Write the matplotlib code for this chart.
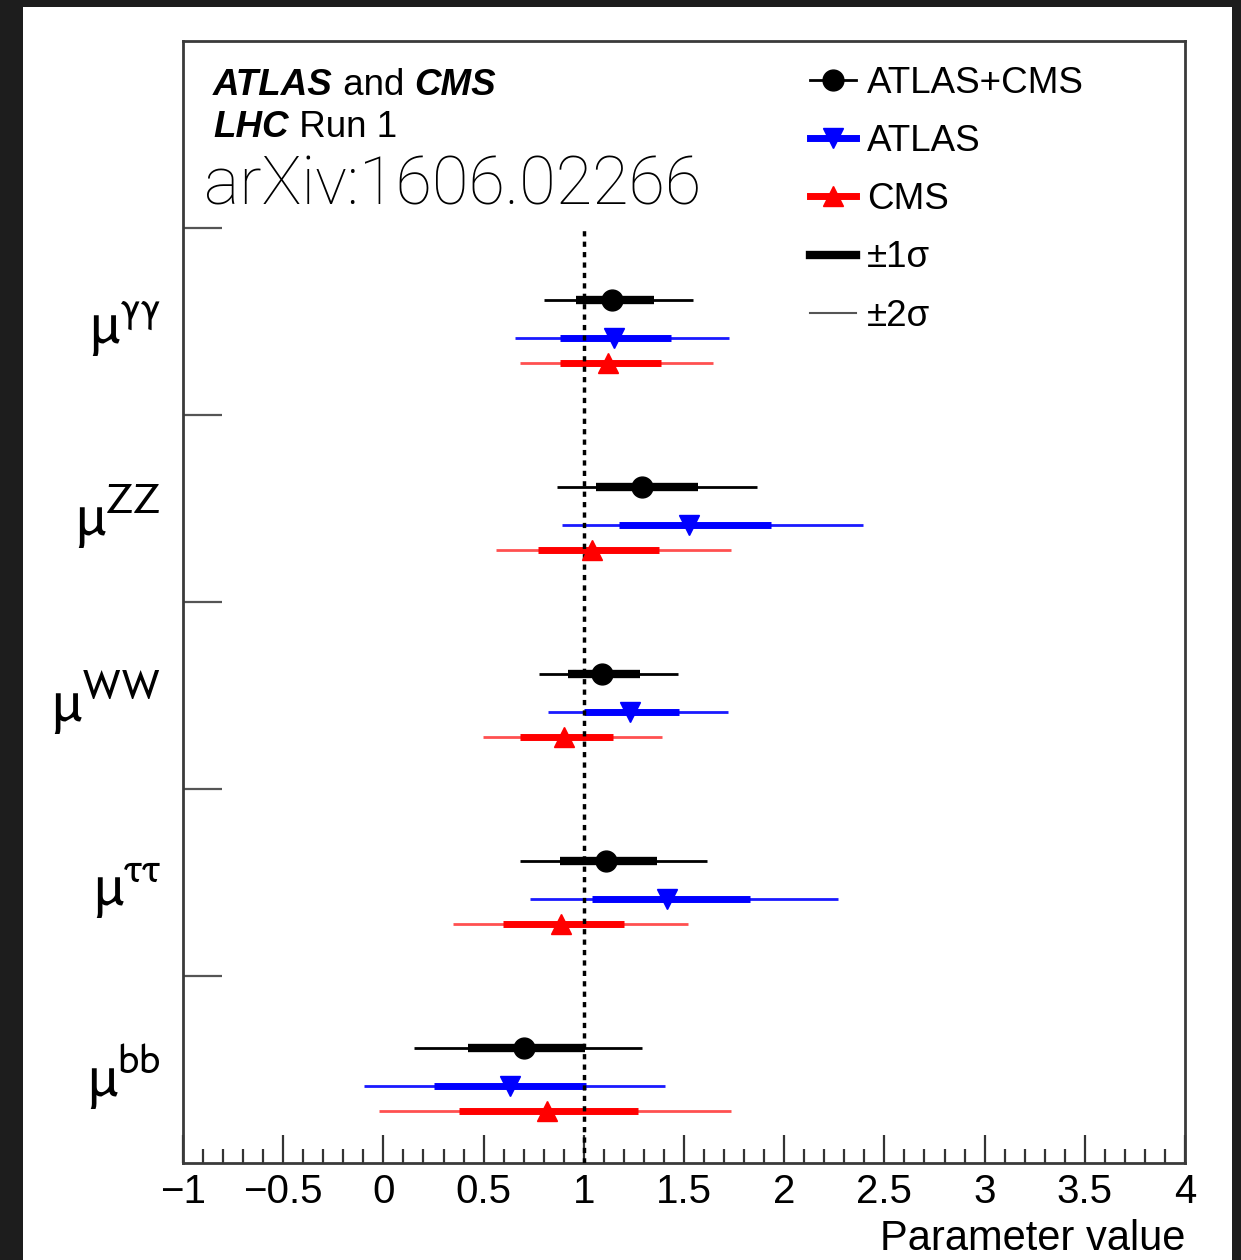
import numpy as np
import matplotlib
matplotlib.use('Agg')
from matplotlib import pyplot as plt
from matplotlib.lines import Line2D
from matplotlib.patches import Rectangle

plt.rcParams['font.family'] = ['Liberation Sans', 'DejaVu Sans']
plt.rcParams['mathtext.fontset'] = 'stixsans'

# channels, top to bottom
channels = [r'$\mathrm{\mu}^{\mathrm{\gamma\gamma}}$', r'$\mathrm{\mu}^{\mathrm{ZZ}}$',
            r'$\mathrm{\mu}^{\mathrm{WW}}$', r'$\mathrm{\mu}^{\mathrm{\tau\tau}}$',
            r'$\mathrm{\mu}^{\mathrm{bb}}$']

# ATLAS+CMS
comb = [1.14, 1.29, 1.09, 1.11, 0.70]
comb_1lo = [0.96, 1.06, 0.92, 0.88, 0.42]
comb_1hi = [1.35, 1.57, 1.28, 1.365, 1.005]
comb_2lo = [0.80, 0.865, 0.775, 0.68, 0.155]
comb_2hi = [1.545, 1.865, 1.47, 1.615, 1.29]

# ATLAS
atlas = [1.15, 1.525, 1.23, 1.415, 0.63]
atlas_1lo = [0.88, 1.175, 1.00, 1.04, 0.25]
atlas_1hi = [1.435, 1.935, 1.475, 1.83, 1.01]
atlas_2lo = [0.655, 0.89, 0.82, 0.73, -0.095]
atlas_2hi = [1.725, 2.395, 1.72, 2.27, 1.405]

# CMS
cms = [1.12, 1.04, 0.90, 0.885, 0.815]
cms_1lo = [0.88, 0.77, 0.68, 0.595, 0.375]
cms_1hi = [1.385, 1.375, 1.145, 1.20, 1.27]
cms_2lo = [0.68, 0.56, 0.495, 0.345, -0.02]
cms_2hi = [1.645, 1.735, 1.39, 1.52, 1.735]

xticks = [-1, -0.5, 0, 0.5, 1, 1.5, 2, 2.5, 3, 3.5, 4]
xticklabels = ['\u22121', '\u22120.5', '0', '0.5', '1', '1.5', '2', '2.5', '3', '3.5', '4']

W, H = 1241, 1260
fig = plt.figure(figsize=(W / 100, H / 100), dpi=100)
fig.patch.set_facecolor('#1d1d1d')
fig.patches.append(Rectangle((23 / W, 0), (1232 - 23) / W, (H - 7) / H,
                             transform=fig.transFigure, facecolor='white',
                             edgecolor='none', zorder=-10))

ax = fig.add_axes([183 / W, (H - 1163) / H, (1185 - 183) / W, (1163 - 41) / H])
ax.set_zorder(5)
ax.set_xlim(-1, 4)
ax.set_ylim(0, 6)

n = len(channels)
tops = np.arange(n, 0, -1)  # top edge of each channel block
y_comb = tops - 0.385
y_atlas = tops - 0.59
y_cms = tops - 0.72

# 2 sigma lines
ax.hlines(y_comb, comb_2lo, comb_2hi, color='black', lw=2.0, zorder=2)
ax.hlines(y_atlas, atlas_2lo, atlas_2hi, color='#1a1aff', lw=2.0, zorder=2)
ax.hlines(y_cms, cms_2lo, cms_2hi, color='#ff5050', lw=2.0, zorder=2)
# 1 sigma bars
ax.hlines(y_comb, comb_1lo, comb_1hi, color='black', lw=6.0, zorder=3)
ax.hlines(y_atlas, atlas_1lo, atlas_1hi, color='#0000ff', lw=5.0, zorder=3)
ax.hlines(y_cms, cms_1lo, cms_1hi, color='#ff0000', lw=5.0, zorder=3)

ax.vlines(1, 0, n, colors='black', linestyles=(0, (1.5, 1.5)), lw=2.5, zorder=4)

ax.plot(comb, y_comb, 'o', color='black', ms=15, zorder=5)
ax.plot(atlas, y_atlas, 'v', color='#0000ff', ms=14, zorder=5)
ax.plot(cms, y_cms, '^', color='#ff0000', ms=14, zorder=5)

# axes styling
for s in ax.spines.values():
    s.set_color('#3a3a3a')
    s.set_linewidth(2.0)

ax.set_xticks(xticks)
ax.set_xticklabels(xticklabels, fontsize=29)
ax.set_xticks(np.arange(-1, 4.01, 0.1), minor=True)
ax.tick_params(axis='x', which='major', direction='in', length=20, width=1.6,
               color='#333333', pad=7, top=False)
ax.tick_params(axis='x', which='minor', direction='in', length=10, width=1.6,
               color='#333333', top=False)

ax.set_yticks(np.arange(1, n + 1))
ax.set_yticklabels([])
ax.set_yticks(tops - 0.5, minor=True)
ax.set_yticklabels(channels, minor=True, fontsize=44)
ax.tick_params(axis='y', which='major', direction='in', length=28, width=1.6,
               color='#555555', right=False)
ax.tick_params(axis='y', which='minor', length=0, pad=16, right=False)

ax.set_xlabel('Parameter value', fontsize=30, loc='right', labelpad=6)

# header text
fs = 26.5
t1 = ax.text(0.030, 0.952, 'ATLAS', transform=ax.transAxes, fontsize=fs,
             fontweight='bold', fontstyle='italic', va='baseline')
t2 = ax.annotate(' and ', xy=(1, 0), xycoords=t1, fontsize=fs, va='bottom')
ax.annotate('CMS', xy=(1, 0), xycoords=t2, fontsize=fs, va='bottom',
            fontweight='bold', fontstyle='italic')
t3 = ax.text(0.030, 0.9144, 'LHC', transform=ax.transAxes, fontsize=fs,
             fontweight='bold', fontstyle='italic', va='baseline')
ax.annotate(' Run 1', xy=(1, 0), xycoords=t3, fontsize=fs, va='bottom')
ax.text(0.021, 0.854, 'arXiv:1606.02266', transform=ax.transAxes, fontsize=48,
        family=['Roboto', 'DejaVu Sans'], fontweight='light', va='baseline')

handles = [
    Line2D([], [], color='black', lw=2, marker='o', ms=15),
    Line2D([], [], color='#0000ff', lw=5, marker='v', ms=14),
    Line2D([], [], color='#ff0000', lw=5, marker='^', ms=14),
    Line2D([], [], color='black', lw=6),
    Line2D([], [], color='#555555', lw=1.5),
]
labels = ['ATLAS+CMS', 'ATLAS', 'CMS', '\u00b11\u03c3', '\u00b12\u03c3']
ax.legend(handles, labels, loc='upper left', bbox_to_anchor=(0.611, 0.991),
          frameon=False, fontsize=26.5, handlelength=1.25, handletextpad=0.3,
          labelspacing=0.63, borderaxespad=0)

fig.savefig('out.png', dpi=100, facecolor=fig.get_facecolor())
